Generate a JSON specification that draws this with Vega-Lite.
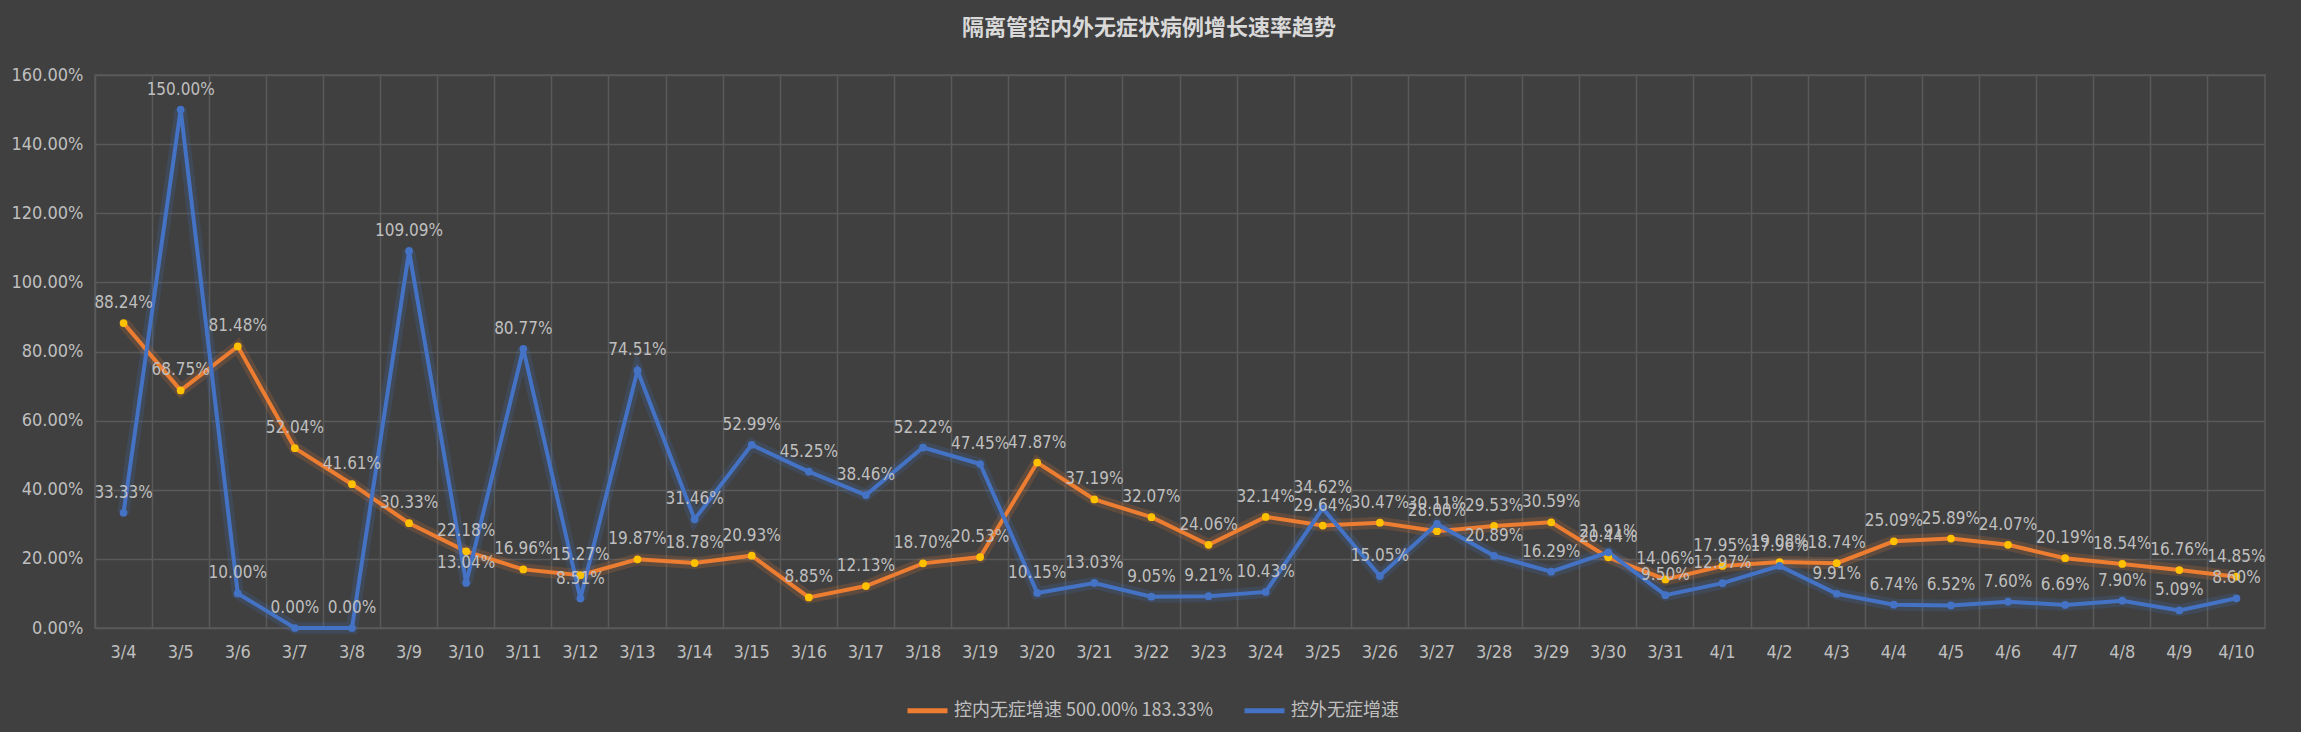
{
  "$schema": "https://vega.github.io/schema/vega-lite/v6.json",
  "autosize": {"type": "none"},
  "width": 2170,
  "height": 553,
  "padding": {"left": 95, "top": 75, "right": 36, "bottom": 104},
  "background": "#404040",
  "config": {
    "view": {"stroke": "#595959", "strokeWidth": 1.5},
    "font": "Liberation Sans Narrow, DejaVu Sans Condensed, sans-serif"
  },
  "title": {
    "text": "隔离管控内外无症状病例增长速率趋势",
    "font": "Noto Sans CJK SC",
    "fontSize": 22,
    "fontWeight": "bold",
    "color": "#d9d9d9",
    "offset": 26,
    "dx": -31
  },
  "data": {
    "values": [
      {"date": "3/4", "series": "控内无症增速 500.00% 183.33%", "value": 0.8824},
      {"date": "3/5", "series": "控内无症增速 500.00% 183.33%", "value": 0.6875},
      {"date": "3/6", "series": "控内无症增速 500.00% 183.33%", "value": 0.8148},
      {"date": "3/7", "series": "控内无症增速 500.00% 183.33%", "value": 0.5204},
      {"date": "3/8", "series": "控内无症增速 500.00% 183.33%", "value": 0.4161},
      {"date": "3/9", "series": "控内无症增速 500.00% 183.33%", "value": 0.3033},
      {"date": "3/10", "series": "控内无症增速 500.00% 183.33%", "value": 0.2218},
      {"date": "3/11", "series": "控内无症增速 500.00% 183.33%", "value": 0.1696},
      {"date": "3/12", "series": "控内无症增速 500.00% 183.33%", "value": 0.1527},
      {"date": "3/13", "series": "控内无症增速 500.00% 183.33%", "value": 0.1987},
      {"date": "3/14", "series": "控内无症增速 500.00% 183.33%", "value": 0.1878},
      {"date": "3/15", "series": "控内无症增速 500.00% 183.33%", "value": 0.2093},
      {"date": "3/16", "series": "控内无症增速 500.00% 183.33%", "value": 0.0885},
      {"date": "3/17", "series": "控内无症增速 500.00% 183.33%", "value": 0.1213},
      {"date": "3/18", "series": "控内无症增速 500.00% 183.33%", "value": 0.1870},
      {"date": "3/19", "series": "控内无症增速 500.00% 183.33%", "value": 0.2053},
      {"date": "3/20", "series": "控内无症增速 500.00% 183.33%", "value": 0.4787},
      {"date": "3/21", "series": "控内无症增速 500.00% 183.33%", "value": 0.3719},
      {"date": "3/22", "series": "控内无症增速 500.00% 183.33%", "value": 0.3207},
      {"date": "3/23", "series": "控内无症增速 500.00% 183.33%", "value": 0.2406},
      {"date": "3/24", "series": "控内无症增速 500.00% 183.33%", "value": 0.3214},
      {"date": "3/25", "series": "控内无症增速 500.00% 183.33%", "value": 0.2964},
      {"date": "3/26", "series": "控内无症增速 500.00% 183.33%", "value": 0.3047},
      {"date": "3/27", "series": "控内无症增速 500.00% 183.33%", "value": 0.2800},
      {"date": "3/28", "series": "控内无症增速 500.00% 183.33%", "value": 0.2953},
      {"date": "3/29", "series": "控内无症增速 500.00% 183.33%", "value": 0.3059},
      {"date": "3/30", "series": "控内无症增速 500.00% 183.33%", "value": 0.2044},
      {"date": "3/31", "series": "控内无症增速 500.00% 183.33%", "value": 0.1406},
      {"date": "4/1", "series": "控内无症增速 500.00% 183.33%", "value": 0.1795},
      {"date": "4/2", "series": "控内无症增速 500.00% 183.33%", "value": 0.1908},
      {"date": "4/3", "series": "控内无症增速 500.00% 183.33%", "value": 0.1874},
      {"date": "4/4", "series": "控内无症增速 500.00% 183.33%", "value": 0.2509},
      {"date": "4/5", "series": "控内无症增速 500.00% 183.33%", "value": 0.2589},
      {"date": "4/6", "series": "控内无症增速 500.00% 183.33%", "value": 0.2407},
      {"date": "4/7", "series": "控内无症增速 500.00% 183.33%", "value": 0.2019},
      {"date": "4/8", "series": "控内无症增速 500.00% 183.33%", "value": 0.1854},
      {"date": "4/9", "series": "控内无症增速 500.00% 183.33%", "value": 0.1676},
      {"date": "4/10", "series": "控内无症增速 500.00% 183.33%", "value": 0.1485},
      {"date": "3/4", "series": "控外无症增速", "value": 0.3333},
      {"date": "3/5", "series": "控外无症增速", "value": 1.5000},
      {"date": "3/6", "series": "控外无症增速", "value": 0.1000},
      {"date": "3/7", "series": "控外无症增速", "value": 0.0},
      {"date": "3/8", "series": "控外无症增速", "value": 0.0},
      {"date": "3/9", "series": "控外无症增速", "value": 1.0909},
      {"date": "3/10", "series": "控外无症增速", "value": 0.1304},
      {"date": "3/11", "series": "控外无症增速", "value": 0.8077},
      {"date": "3/12", "series": "控外无症增速", "value": 0.0851},
      {"date": "3/13", "series": "控外无症增速", "value": 0.7451},
      {"date": "3/14", "series": "控外无症增速", "value": 0.3146},
      {"date": "3/15", "series": "控外无症增速", "value": 0.5299},
      {"date": "3/16", "series": "控外无症增速", "value": 0.4525},
      {"date": "3/17", "series": "控外无症增速", "value": 0.3846},
      {"date": "3/18", "series": "控外无症增速", "value": 0.5222},
      {"date": "3/19", "series": "控外无症增速", "value": 0.4745},
      {"date": "3/20", "series": "控外无症增速", "value": 0.1015},
      {"date": "3/21", "series": "控外无症增速", "value": 0.1303},
      {"date": "3/22", "series": "控外无症增速", "value": 0.0905},
      {"date": "3/23", "series": "控外无症增速", "value": 0.0921},
      {"date": "3/24", "series": "控外无症增速", "value": 0.1043},
      {"date": "3/25", "series": "控外无症增速", "value": 0.3462},
      {"date": "3/26", "series": "控外无症增速", "value": 0.1505},
      {"date": "3/27", "series": "控外无症增速", "value": 0.3011},
      {"date": "3/28", "series": "控外无症增速", "value": 0.2089},
      {"date": "3/29", "series": "控外无症增速", "value": 0.1629},
      {"date": "3/30", "series": "控外无症增速", "value": 0.2191},
      {"date": "3/31", "series": "控外无症增速", "value": 0.0950},
      {"date": "4/1", "series": "控外无症增速", "value": 0.1297},
      {"date": "4/2", "series": "控外无症增速", "value": 0.1796},
      {"date": "4/3", "series": "控外无症增速", "value": 0.0991},
      {"date": "4/4", "series": "控外无症增速", "value": 0.0674},
      {"date": "4/5", "series": "控外无症增速", "value": 0.0652},
      {"date": "4/6", "series": "控外无症增速", "value": 0.0760},
      {"date": "4/7", "series": "控外无症增速", "value": 0.0669},
      {"date": "4/8", "series": "控外无症增速", "value": 0.0790},
      {"date": "4/9", "series": "控外无症增速", "value": 0.0509},
      {"date": "4/10", "series": "控外无症增速", "value": 0.0860}
    ]
  },
  "encoding": {
    "x": {
      "field": "date",
      "type": "ordinal",
      "sort": null,
      "scale": {"type": "band", "paddingInner": 0, "paddingOuter": 0},
      "title": null
    },
    "y": {
      "field": "value",
      "type": "quantitative",
      "scale": {"domain": [0, 1.6], "nice": false},
      "title": null
    }
  },
  "layer": [
    {
      "mark": {"type": "rule", "opacity": 0},
      "encoding": {
        "x": {
          "field": "date",
          "type": "ordinal",
          "sort": null,
          "axis": {
            "orient": "bottom",
            "bandPosition": 0,
            "grid": true,
            "gridColor": "#595959",
            "gridWidth": 1.5,
            "labels": false,
            "ticks": false,
            "domain": false
          }
        }
      }
    },
    {
      "mark": {"type": "line", "strokeWidth": 12, "opacity": 0.18},
      "encoding": {
        "color": {
          "field": "series",
          "type": "nominal",
          "sort": null,
          "scale": {"domain": ["控内无症增速 500.00% 183.33%", "控外无症增速"], "range": ["#ed7d31", "#4472c4"]}
        },
        "x": {"field": "date", "type": "ordinal", "sort": null, "axis": null}
      }
    },
    {
      "mark": {"type": "line", "strokeWidth": 4},
      "encoding": {
        "color": {
          "field": "series",
          "type": "nominal",
          "sort": null,
          "scale": {"domain": ["控内无症增速 500.00% 183.33%", "控外无症增速"], "range": ["#ed7d31", "#4472c4"]},
          "legend": {
            "orient": "none",
            "legendX": 810,
            "legendY": 613,
            "direction": "horizontal",
            "title": null,
            "symbolType": "stroke",
            "symbolStrokeWidth": 5,
            "symbolSize": 1600,
            "symbolOpacity": 1,
            "labelColor": "#bfbfbf",
            "labelFont": "Noto Sans CJK SC",
            "labelFontSize": 18,
            "columnPadding": 20,
            "labelLimit": 400,
            "encode": {
              "symbols": {"update": {"opacity": {"value": 1}, "strokeOpacity": {"value": 1}}}
            }
          }
        },
        "x": {
          "field": "date",
          "type": "ordinal",
          "sort": null,
          "axis": {
            "orient": "bottom",
            "grid": false,
            "domain": false,
            "ticks": false,
            "labelColor": "#bfbfbf",
            "labelFontSize": 18,
            "labelAngle": 0,
            "labelPadding": 15
          }
        },
        "y": {
          "field": "value",
          "type": "quantitative",
          "axis": {
            "values": [0, 0.2, 0.4, 0.6, 0.8, 1.0, 1.2, 1.4, 1.6],
            "format": ".2%",
            "grid": true,
            "gridColor": "#595959",
            "gridWidth": 1.5,
            "domain": false,
            "ticks": false,
            "labelColor": "#bfbfbf",
            "labelFontSize": 18,
            "labelPadding": 12
          }
        }
      }
    },
    {
      "mark": {"type": "point", "filled": true, "size": 60, "opacity": 1},
      "encoding": {
        "fill": {
          "field": "series",
          "type": "nominal",
          "sort": null,
          "scale": {"domain": ["控内无症增速 500.00% 183.33%", "控外无症增速"], "range": ["#ffc000", "#4472c4"]},
          "legend": null
        },
        "x": {"field": "date", "type": "ordinal", "sort": null, "axis": null}
      }
    },
    {
      "mark": {"type": "text", "dy": -20, "fontSize": 17, "color": "#bfbfbf"},
      "encoding": {
        "text": {"field": "value", "type": "quantitative", "format": ".2%"},
        "x": {"field": "date", "type": "ordinal", "sort": null, "axis": null}
      }
    }
  ],
  "resolve": {"axis": {"x": "independent"}}
}
